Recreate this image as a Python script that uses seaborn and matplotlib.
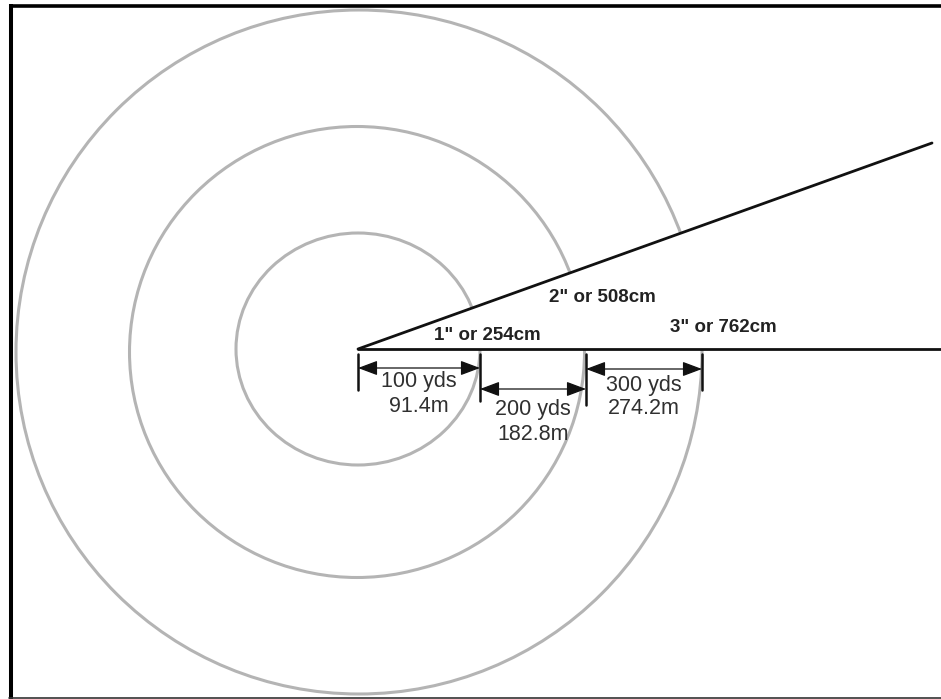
import matplotlib
matplotlib.use("Agg")
import matplotlib.pyplot as plt
from matplotlib.patches import Ellipse, Polygon
import pandas as pd
import seaborn as sns

# range rings (pixel units, center + width/height)
ring_cx = [358, 357, 359]
ring_cy = [349, 352, 352]
ring_w = [244, 455, 686]
ring_h = [232, 451, 684]

# rays from the vertex
ray_x = [358, 932, 358, 941]
ray_y = [349, 143, 349, 349]
ray_id = ["upper", "upper", "base", "base"]

# dimension markers
tick_x = [358, 480, 586, 702]
tick_bottom = [390, 401, 405, 390]
arrow_y = [368, 389, 369]
yds_labels = ["100 yds", "200 yds", "300 yds"]
m_labels = ["91.4m", "182.8m", "274.2m"]
label_yds_y = [382, 410, 385]

# size labels along the rays
size_labels = ['1" or 254cm', '2" or 508cm', '3" or 762cm']
size_x = [487, 602, 723]
size_y = [335, 298, 327]

sns.set_theme(style="white")
plt.rcParams["font.family"] = ["Liberation Sans", "DejaVu Sans"]

fig = plt.figure(figsize=(9.41, 6.99), dpi=100)
ax = fig.add_axes([0, 0, 1, 1])

# rings are hidden inside the wedge between the two rays
slope = (ray_y[1] - ray_y[0]) / (ray_x[1] - ray_x[0])
y_edge = ray_y[0] + slope * (941 - ray_x[0])
outside = Polygon([(ray_x[0], ray_y[0]), (941, ray_y[0]), (941, 699), (0, 699),
                   (0, 0), (941, 0), (941, y_edge)], closed=True,
                  transform=ax.transData, fc="none", ec="none")
for cx, cy, w, h in zip(ring_cx, ring_cy, ring_w, ring_h):
    e = Ellipse((cx, cy), w, h, fill=False, ec="#b4b4b4", lw=2.2)
    ax.add_patch(e)
    e.set_clip_path(outside)

# rays
rays = pd.DataFrame({"x": ray_x, "y": ray_y, "seg": ray_id})
sns.lineplot(data=rays, x="x", y="y", units="seg", estimator=None, sort=False,
             color="#111111", lw=2.0, ax=ax)

# vertical tick bars
for x, yb in zip(tick_x, tick_bottom):
    ax.plot([x, x], [354, yb], color="#111111", lw=1.8)

# dimension arrows + labels
for i in range(3):
    x0, x1 = tick_x[i], tick_x[i + 1]
    ax.annotate("", xy=(x1, arrow_y[i]), xytext=(x0, arrow_y[i]),
                arrowprops=dict(arrowstyle="<|-|>,head_length=1.2,head_width=0.45",
                                mutation_scale=10, color="#111111", lw=0.9,
                                shrinkA=0, shrinkB=0))
    xc = (x0 + x1) / 2
    ax.text(xc, label_yds_y[i], yds_labels[i], ha="center", va="center",
            fontsize=15.5, color="#303030")
    ax.text(xc, label_yds_y[i] + 24, m_labels[i], ha="center", va="center",
            fontsize=15.5, color="#303030")

for s, x, y in zip(size_labels, size_x, size_y):
    ax.text(x, y, s, ha="center", va="center", fontsize=13.5,
            fontweight="bold", color="#222222")

# frame
ax.plot([9, 941], [5.5, 5.5], color="black", lw=2.6, solid_capstyle="butt")
ax.plot([11, 11], [4, 699], color="black", lw=2.9, solid_capstyle="butt")
ax.plot([9, 941], [697.5, 697.5], color="#333333", lw=1.2)

ax.set_xlim(0, 941)
ax.set_ylim(699, 0)
ax.axis("off")

fig.savefig("out.png", dpi=100, facecolor="white")
